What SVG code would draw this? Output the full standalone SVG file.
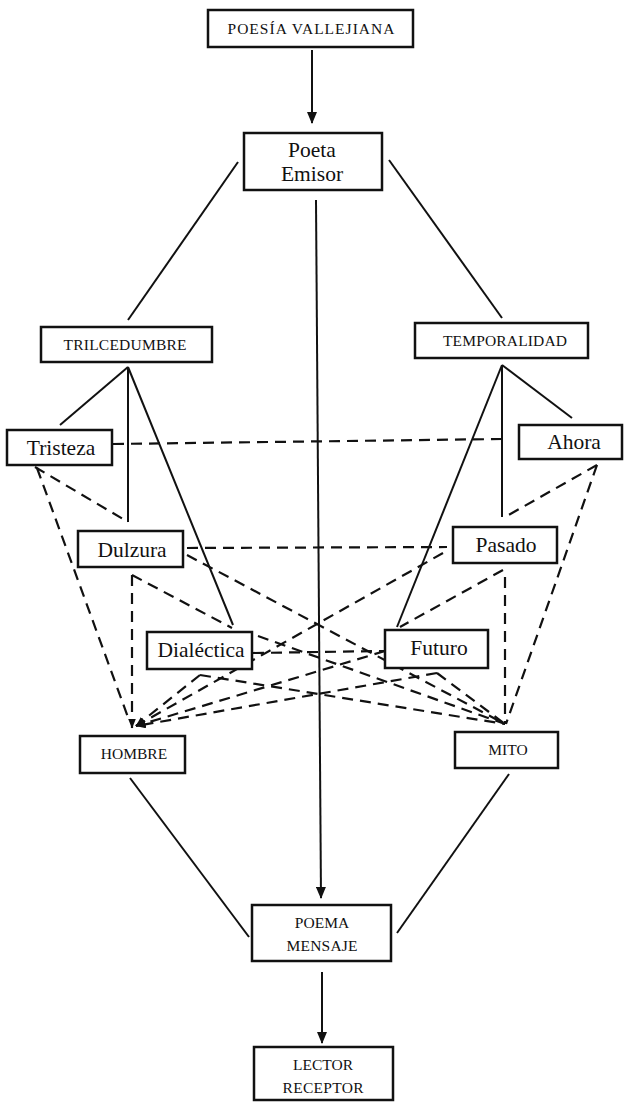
<svg xmlns="http://www.w3.org/2000/svg" width="624" height="1103" viewBox="0 0 624 1103">
<style>
.box{fill:#fff;stroke:#111;stroke-width:2.5}
.sl{fill:none;stroke:#111;stroke-width:2}
.dl{fill:none;stroke:#111;stroke-width:2.2;stroke-dasharray:11 7}
.t{font-family:"Liberation Serif","Times New Roman",serif;fill:#111;text-anchor:middle}
.big{font-size:21.5px}
.cap{font-size:15.5px}
</style>
<defs>
<marker id="ah" viewBox="0 0 12 10" refX="11" refY="5" markerWidth="12" markerHeight="10" markerUnits="userSpaceOnUse" orient="auto">
<path d="M0,0 L12,5 L0,10 Z" fill="#111"/>
</marker>
<marker id="ahs" viewBox="0 0 10 8" refX="9.5" refY="4" markerWidth="10" markerHeight="8" markerUnits="userSpaceOnUse" orient="auto">
<path d="M0,0 L10,4 L0,8 Z" fill="#111"/>
</marker>
</defs>
<rect width="624" height="1103" fill="#fff"/>
<g id="connectors">
<line class="sl" x1="312" y1="50" x2="312" y2="123" marker-end="url(#ah)"/>
<line class="sl" x1="238" y1="162" x2="128" y2="320"/>
<line class="sl" x1="389" y1="160" x2="502" y2="318"/>
<line class="sl" x1="316" y1="200" x2="321" y2="898" marker-end="url(#ah)"/>
<line class="sl" x1="128" y1="367" x2="60" y2="425"/>
<line class="sl" x1="128" y1="367" x2="128" y2="522"/>
<line class="sl" x1="128" y1="367" x2="233" y2="625"/>
<line class="sl" x1="502" y1="365" x2="572" y2="418"/>
<line class="sl" x1="502" y1="365" x2="502" y2="517"/>
<line class="sl" x1="502" y1="365" x2="397" y2="627"/>
<line class="sl" x1="130" y1="778" x2="249" y2="937"/>
<line class="sl" x1="509" y1="774" x2="397" y2="933"/>
<line class="sl" x1="322" y1="972" x2="322" y2="1043" marker-end="url(#ah)"/>
<line class="dl" x1="113" y1="444" x2="503" y2="439"/>
<line class="dl" x1="187" y1="548" x2="447" y2="547"/>
<line class="dl" x1="35" y1="467" x2="128" y2="522"/>
<line class="dl" x1="37" y1="468" x2="129" y2="720"/>
<line class="dl" x1="132" y1="575" x2="132" y2="728" marker-end="url(#ahs)"/>
<line class="dl" x1="132" y1="575" x2="232" y2="628"/>
<line class="dl" x1="187" y1="555" x2="505" y2="724"/>
<line class="dl" x1="443" y1="553" x2="136" y2="726" marker-end="url(#ahs)"/>
<line class="dl" x1="503" y1="570" x2="400" y2="627"/>
<line class="dl" x1="505" y1="577" x2="505" y2="724"/>
<line class="dl" x1="597" y1="465" x2="506" y2="724"/>
<line class="dl" x1="597" y1="465" x2="505" y2="517"/>
<line class="dl" x1="253" y1="653" x2="385" y2="651"/>
<line class="dl" x1="200" y1="675" x2="136" y2="726" marker-end="url(#ahs)"/>
<line class="dl" x1="200" y1="675" x2="505" y2="724"/>
<line class="dl" x1="437" y1="673" x2="136" y2="726" marker-end="url(#ahs)"/>
<line class="dl" x1="437" y1="673" x2="505" y2="724"/>
<line class="dl" x1="258" y1="636" x2="505" y2="724"/>
<line class="dl" x1="385" y1="651" x2="136" y2="726" marker-end="url(#ahs)"/>
</g>
<g id="n-poesia"><rect class="box" x="208" y="10" width="205" height="37"/><text class="t cap" x="311" y="34" textLength="167">POESÍA VALLEJIANA</text></g>
<g id="n-poeta"><rect class="box" x="244" y="133" width="138" height="57"/><text class="t big" x="312" y="157">Poeta</text><text class="t big" x="312" y="181">Emisor</text></g>
<g id="n-trilcedumbre"><rect class="box" x="41" y="327" width="171" height="35"/><text class="t cap" x="125" y="350" textLength="123">TRILCEDUMBRE</text></g>
<g id="n-temporalidad"><rect class="box" x="415" y="323" width="173" height="35"/><text class="t cap" x="505" y="346" textLength="124">TEMPORALIDAD</text></g>
<g id="n-tristeza"><rect class="box" x="7" y="430" width="105" height="35"/><text class="t big" x="61" y="455">Tristeza</text></g>
<g id="n-ahora"><rect class="box" x="519" y="425" width="103" height="34"/><text class="t big" x="574" y="449">Ahora</text></g>
<g id="n-dulzura"><rect class="box" x="78" y="531" width="105" height="36"/><text class="t big" x="132" y="557">Dulzura</text></g>
<g id="n-pasado"><rect class="box" x="453" y="527" width="104" height="36"/><text class="t big" x="506" y="552">Pasado</text></g>
<g id="n-dialectica"><rect class="box" x="147" y="632" width="105" height="37"/><text class="t big" x="201" y="657">Dialéctica</text></g>
<g id="n-futuro"><rect class="box" x="385" y="630" width="103" height="38"/><text class="t big" x="439" y="655">Futuro</text></g>
<g id="n-hombre"><rect class="box" x="80" y="736" width="105" height="37"/><text class="t cap" x="134" y="759">HOMBRE</text></g>
<g id="n-mito"><rect class="box" x="455" y="732" width="103" height="36"/><text class="t cap" x="508" y="755">MITO</text></g>
<g id="n-poema"><rect class="box" x="252" y="905" width="139" height="56"/><text class="t cap" x="322" y="928">POEMA</text><text class="t cap" x="322" y="951" textLength="71">MENSAJE</text></g>
<g id="n-lector"><rect class="box" x="254" y="1047" width="139" height="53"/><text class="t cap" x="323" y="1070">LECTOR</text><text class="t cap" x="323" y="1093" textLength="81">RECEPTOR</text></g>
</svg>
